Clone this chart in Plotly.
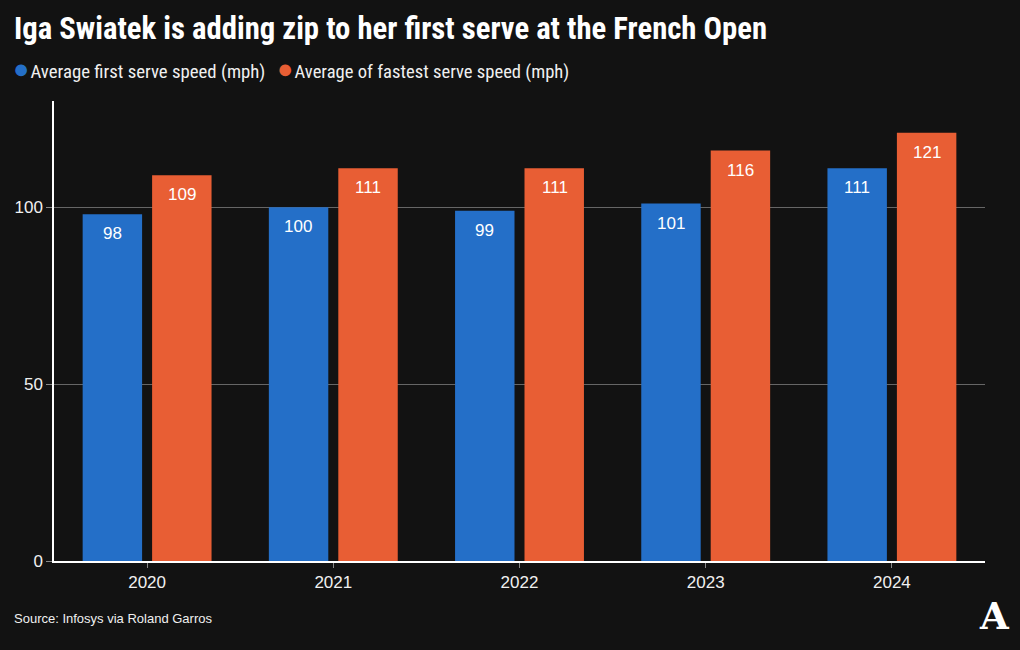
import plotly.graph_objects as go

years = ["2020", "2021", "2022", "2023", "2024"]
avg_first = [98, 100, 99, 101, 111]
avg_fastest = [109, 111, 111, 116, 121]
series_names = ["Average first serve speed (mph)", "Average of fastest serve speed (mph)"]
y_ticks = [0, 50, 100]

BLUE = "#246FC8"
ORANGE = "#E85E34"
BG = "#121212"
TXT = "#F0F0F0"
W, H = 1020, 650
L, R, T, B = 54, 35, 101, 89
PW, PH = W - L - R, H - T - B
NUMFONT = "Liberation Sans, Arial, sans-serif"
NARROW = "Liberation Sans Narrow, Roboto Condensed, Arial Narrow, sans-serif"


def px(x, y):
    """container pixel -> paper coords"""
    return (x - L) / PW, (H - B - y) / PH


fig = go.Figure()
annotations = []
for name, vals, col, dx in [(series_names[0], avg_first, BLUE, -35), (series_names[1], avg_fastest, ORANGE, 35)]:
    fig.add_trace(go.Bar(
        x=years, y=vals, name=name, marker=dict(color=col, line=dict(width=0)),
        showlegend=False, hoverinfo="skip"))
    for i, v in enumerate(vals):
        annotations.append(dict(x=i, y=v, xref="x", yref="y", text=str(v), showarrow=False,
                                xshift=dx, yshift=-8, yanchor="top", xanchor="center",
                                font=dict(family=NUMFONT, size=17, color="white")))

# legend as annotations (circle glyph + text)
lx, ly = px(11, 69)
dot = "<span style='color:{c};font-size:27px'>●</span><span style='font-size:5px'> </span>"
annotations.append(dict(x=lx, y=ly, xref="paper", yref="paper", xanchor="left", yanchor="middle",
                        showarrow=False, align="left",
                        text=(dot.format(c=BLUE) +
                              f"<span style='font-size:18.8px'>{series_names[0]}</span>"
                              f"<span style='font-size:17px'>   </span>" +
                              dot.format(c=ORANGE) +
                              f"<span style='font-size:18.6px'>{series_names[1]}</span>"),
                        font=dict(family=NARROW, size=19, color=TXT)))

sx, sy = px(12, 618)
annotations.append(dict(text="Source: Infosys via Roland Garros", x=sx, y=sy, xref="paper", yref="paper",
                        xanchor="left", yanchor="middle", showarrow=False,
                        font=dict(family=NUMFONT, size=13, color=TXT)))
ax_, ay_ = px(994, 616)
annotations.append(dict(text="<b>A</b>", x=ax_, y=ay_, xref="paper", yref="paper",
                        xanchor="center", yanchor="middle", showarrow=False,
                        font=dict(family="DejaVu Serif", size=37, color="white")))

fig.update_layout(
    width=W, height=H,
    paper_bgcolor=BG, plot_bgcolor=BG,
    margin=dict(l=L, r=R, t=T, b=B),
    barmode="group", bargap=0.254, bargroupgap=0.144,
    title=dict(text="<b>Iga Swiatek is adding zip to her first serve at the French Open</b>",
               x=14 / W, xref="container", xanchor="left",
               y=1 - 28 / H, yref="container", yanchor="middle",
               font=dict(family=NARROW, size=30.7, color="white")),
    showlegend=False,
    xaxis=dict(type="category", showline=True, linecolor="white", linewidth=1.5, ticks="outside", ticklen=5,
               tickcolor="#888", tickfont=dict(family=NUMFONT, size=17, color=TXT),
               range=[-0.5, 4.5], showgrid=False, zeroline=False),
    yaxis=dict(range=[0, 130], tickvals=y_ticks, showline=True, linecolor="white", linewidth=1.5,
               ticks="outside", ticklen=6, tickcolor="#888",
               tickfont=dict(family=NUMFONT, size=17, color=TXT),
               showgrid=True, gridcolor="#666", gridwidth=1, zeroline=False),
    font=dict(family=NUMFONT, color=TXT),
    annotations=annotations,
)

fig.write_html("out.html", config={"displayModeBar": False},
               post_script="document.body.style.margin='0';")
